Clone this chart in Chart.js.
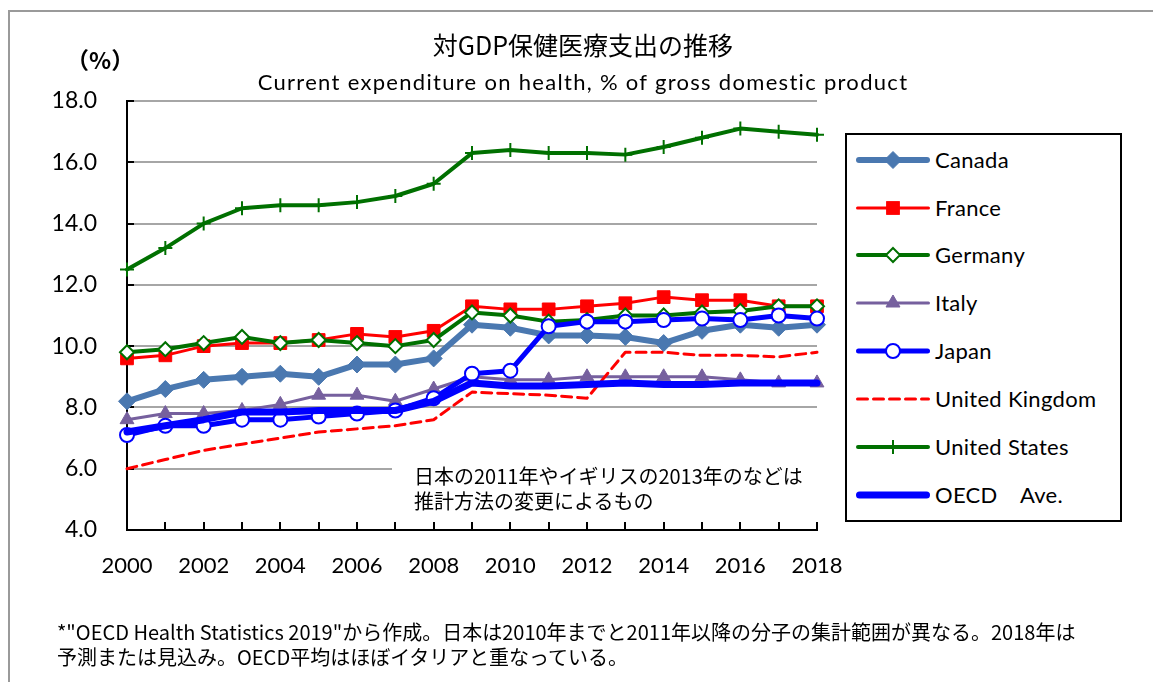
<!DOCTYPE html>
<html><head><meta charset="utf-8">
<script src="https://cdn.jsdelivr.net/npm/chart.js@4/dist/chart.umd.min.js"></script>
<style>
body{margin:0;background:#fff;}
#wrap{position:relative;width:1153px;height:682px;overflow:hidden;background:#fff;}
#c{position:absolute;left:0;top:0;}
.t{position:absolute;white-space:nowrap;color:#000;line-height:1;}
.jp{font-family:"Noto Sans CJK JP",sans-serif;}
.lt{font-family:Lato,"Noto Sans CJK JP",sans-serif;}
#legend{position:absolute;left:845px;top:133px;width:273px;height:385px;border:2px solid #000;background:#fff;}
.li{position:absolute;left:0;height:24px;}
.li svg{position:absolute;left:8px;top:0;}
.li span{position:absolute;left:88px;top:0;font-family:Lato,"Noto Sans CJK JP",sans-serif;font-size:22px;line-height:24px;white-space:nowrap;letter-spacing:0.3px;}
</style></head><body>
<div id="wrap">
<canvas id="c" width="1153" height="682"></canvas>
<div style="position:absolute;left:8px;top:10px;width:1145px;height:2px;background:#9a9a9a"></div>
<div style="position:absolute;left:8px;top:10px;width:2px;height:672px;background:#9a9a9a"></div>
<div class="t jp" style="left:0;width:1166px;text-align:center;top:32px;font-size:25px;">対GDP保健医療支出の推移</div>
<div class="t lt" style="left:0;width:1166px;text-align:center;top:71px;font-size:22px;letter-spacing:1.3px;">Current expenditure on health, % of gross domestic product</div>
<div class="t jp" style="left:66px;top:48px;font-size:23px;font-weight:bold;">（%）</div>
<div class="t jp" style="left:414px;top:466px;font-size:20px;">日本の2011年やイギリスの2013年のなどは</div>
<div class="t jp" style="left:414px;top:491px;font-size:20px;">推計方法の変更によるもの</div>
<div class="t jp" style="left:57px;top:622px;font-size:20px;">*"OECD Health Statistics 2019"から作成。日本は2010年までと2011年以降の分子の集計範囲が異なる。2018年は</div>
<div class="t jp" style="left:57px;top:647px;font-size:20px;">予測または見込み。OECD平均はほぼイタリアと重なっている。</div>
<div id="legend"></div>
</div>
<script>
// ---- data ----
const years = ['2000','2001','2002','2003','2004','2005','2006','2007','2008','2009','2010','2011','2012','2013','2014','2015','2016','2017','2018'];
const yTicks = [4, 6, 8, 10, 12, 14, 16, 18];
const seriesNames = ['Canada','France','Germany','Italy','Japan','United Kingdom','United States','OECD\u3000Ave.'];
const canada  = [8.2, 8.6, 8.9, 9.0, 9.1, 9.0, 9.4, 9.4, 9.6, 10.7, 10.6, 10.35, 10.35, 10.3, 10.1, 10.5, 10.7, 10.6, 10.7];
const france  = [9.6, 9.7, 10.0, 10.1, 10.1, 10.2, 10.4, 10.3, 10.5, 11.3, 11.2, 11.2, 11.3, 11.4, 11.6, 11.5, 11.5, 11.3, 11.3];
const germany = [9.8, 9.9, 10.1, 10.3, 10.1, 10.2, 10.1, 10.0, 10.2, 11.1, 11.0, 10.8, 10.85, 11.0, 11.0, 11.1, 11.15, 11.3, 11.3];
const italy   = [7.6, 7.8, 7.8, 7.9, 8.1, 8.4, 8.4, 8.2, 8.6, 9.0, 8.9, 8.9, 9.0, 9.0, 9.0, 9.0, 8.9, 8.8, 8.8];
const japan   = [7.1, 7.4, 7.4, 7.6, 7.6, 7.7, 7.8, 7.9, 8.3, 9.1, 9.2, 10.65, 10.8, 10.8, 10.85, 10.9, 10.85, 11.0, 10.9];
const uk      = [6.0, 6.3, 6.6, 6.8, 7.0, 7.2, 7.3, 7.4, 7.6, 8.5, 8.45, 8.4, 8.3, 9.8, 9.8, 9.7, 9.7, 9.65, 9.8];
const us      = [12.5, 13.2, 14.0, 14.5, 14.6, 14.6, 14.7, 14.9, 15.3, 16.3, 16.4, 16.3, 16.3, 16.25, 16.5, 16.8, 17.1, 17.0, 16.9];
const oecd    = [7.2, 7.4, 7.6, 7.85, 7.85, 7.9, 7.9, 7.9, 8.2, 8.8, 8.7, 8.7, 8.75, 8.8, 8.75, 8.75, 8.8, 8.8, 8.8];
const seriesValues = [canada, france, germany, italy, japan, uk, us, oecd];

// ---- styles ----
const styles = [
  {color:'#4A78B0', width:6, point:'rectRot', radius:8.5, fill:'#4A78B0', pbw:1},
  {color:'#FF0000', width:3, point:'rect', radius:9, fill:'#FF0000', pbw:1},
  {color:'#007000', width:4, point:'rectRot', radius:7, fill:'#FFFFFF', pbw:2},
  {color:'#76609E', width:3, point:'triangle', radius:8, fill:'#76609E', pbw:1},
  {color:'#0000FF', width:5, point:'circle', radius:7, fill:'#FFFFFF', pbw:2},
  {color:'#FF0000', width:3, dash:[10,6], point:null},
  {color:'#007000', width:4, point:'cross', radius:7, fill:'#007000', pbw:2},
  {color:'#0000FF', width:7, point:null}
];

const datasets = seriesValues.map((vals, i) => {
  const s = styles[i];
  return {
    label: seriesNames[i],
    data: vals,
    borderColor: s.color,
    borderWidth: s.width,
    borderDash: s.dash || [],
    borderJoinStyle: 'round',
    borderCapStyle: 'round',
    tension: 0,
    fill: false,
    pointStyle: s.point || 'circle',
    pointRadius: s.point ? s.radius : 0,
    pointHoverRadius: s.point ? s.radius : 0,
    pointBackgroundColor: s.fill || s.color,
    pointBorderColor: s.color,
    pointBorderWidth: s.pbw || 1,
    clip: false,
    order: seriesValues.length - i
  };
});

const deco = {
  id: 'deco',
  beforeDatasetsDraw(chart) {
    const {ctx, chartArea: a, scales: {x, y}} = chart;
    ctx.save();
    // annotation background hides part of the 6.0 grid line
    const y6 = y.getPixelForValue(6);
    ctx.fillStyle = '#fff';
    ctx.fillRect(392, y6 - 3, a.right - 392 + 4, 6);
    ctx.strokeStyle = '#000';
    ctx.lineWidth = 2;
    ctx.beginPath();
    years.forEach((_, i) => {
      const px = Math.round(x.getPixelForValue(i));
      ctx.moveTo(px, a.bottom);
      ctx.lineTo(px, a.bottom - 8);
    });
    yTicks.forEach(v => {
      const py = Math.round(y.getPixelForValue(v));
      ctx.moveTo(a.left, py);
      ctx.lineTo(a.left + 7, py);
    });
    ctx.stroke();
    ctx.restore();
  }
};

new Chart(document.getElementById('c'), {
  type: 'line',
  data: { labels: years, datasets },
  options: {
    responsive: false,
    animation: false,
    devicePixelRatio: 1,
    layout: { padding: { top: 101, right: 336, bottom: 0, left: 0 } },
    plugins: { legend: { display: false }, tooltip: { enabled: false }, title: { display: false } },
    scales: {
      x: {
        type: 'category',
        offset: false,
        grid: { display: false, drawTicks: false },
        border: { color: '#000', width: 2 },
        ticks: {
          autoSkip: false, maxRotation: 0, minRotation: 0, padding: 23, color: '#000',
          font: { family: 'Lato', size: 22 },
          callback: (v, i) => (i % 2 === 0 ? years[i] : '')
        },
        afterFit(s) { s.height = 152; }
      },
      y: {
        min: 4, max: 18,
        afterBuildTicks(s) { s.ticks = yTicks.map(v => ({ value: v })); },
        ticks: {
          padding: 30, color: '#000',
          font: { family: 'Lato', size: 23 },
          callback: v => Number(v).toFixed(1)
        },
        grid: {
          color: c => (c.tick && c.tick.value === 4 ? 'rgba(0,0,0,0)' : '#A6A6A6'),
          lineWidth: 2, drawTicks: false
        },
        border: { color: '#000', width: 2 },
        afterFit(s) { s.width = 127; }
      }
    }
  },
  plugins: [deco]
});

// ---- legend ----
function marker(s, cx, cy) {
  if (!s.point) return '';
  const r = s.radius, f = s.fill, c = s.color, w = s.pbw;
  switch (s.point) {
    case 'rectRot': return `<polygon points="${cx},${cy-r} ${cx+r},${cy} ${cx},${cy+r} ${cx-r},${cy}" fill="${f}" stroke="${c}" stroke-width="${w}"/>`;
    case 'rect': { const h = r * Math.SQRT1_2; return `<rect x="${cx-h}" y="${cy-h}" width="${2*h}" height="${2*h}" fill="${f}" stroke="${c}" stroke-width="${w}"/>`; }
    case 'triangle': return `<polygon points="${cx},${cy-r} ${cx+r*0.87},${cy+r*0.5} ${cx-r*0.87},${cy+r*0.5}" fill="${f}" stroke="${c}" stroke-width="${w}"/>`;
    case 'circle': return `<circle cx="${cx}" cy="${cy}" r="${r}" fill="${f}" stroke="${c}" stroke-width="${w}"/>`;
    case 'cross': return `<line x1="${cx}" y1="${cy-r}" x2="${cx}" y2="${cy+r}" stroke="${c}" stroke-width="${w}"/><line x1="${cx-r}" y1="${cy}" x2="${cx+r}" y2="${cy}" stroke="${c}" stroke-width="${w}"/>`;
  }
  return '';
}
const legend = document.getElementById('legend');
const rowTops = [25, 73, 120, 168, 216, 264, 312, 360];
seriesNames.forEach((name, i) => {
  const s = styles[i];
  const d = document.createElement('div');
  d.className = 'li';
  d.style.top = (rowTops[i] - 12) + 'px';
  const dash = s.dash ? `stroke-dasharray="${s.dash.join(',')}"` : '';
  d.innerHTML = `<svg width="76" height="24"><line x1="${s.width/2+1}" y1="12" x2="${75 - s.width/2}" y2="12" stroke="${s.color}" stroke-width="${s.width}" stroke-linecap="round" ${dash}/>${marker(s, 38, 12)}</svg><span>${name}</span>`;
  legend.appendChild(d);
});
</script>
</body></html>
